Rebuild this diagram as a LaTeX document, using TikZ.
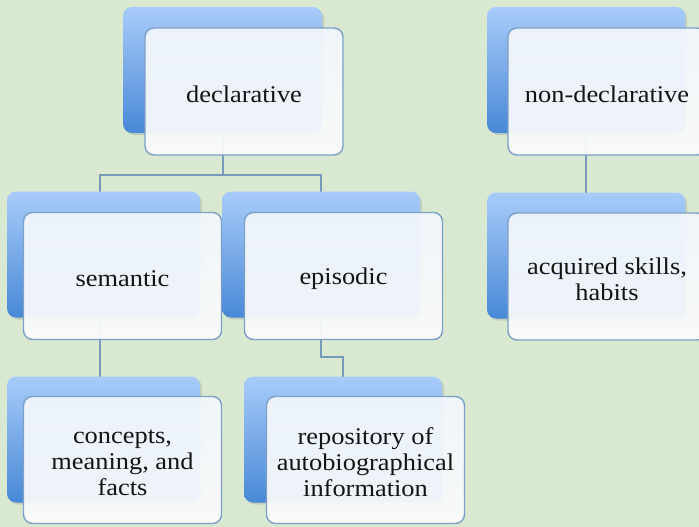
\documentclass[tikz,border=0pt]{standalone}
\usepackage{fontspec}
\setmainfont{Liberation Serif}[FakeStretch=1.1]
\usetikzlibrary{shadows}
\definecolor{bgc}{RGB}{217,233,209}
\definecolor{bluetop}{RGB}{168,204,250}
\definecolor{bluebot}{RGB}{72,136,214}
\definecolor{wtop}{RGB}{242,246,252}
\definecolor{wbot}{RGB}{250,251,251}
\definecolor{wborder}{RGB}{124,160,200}
\definecolor{linec}{RGB}{120,154,186}
\definecolor{txt}{RGB}{20,20,20}
\pgfdeclarelayer{bg}
\pgfsetlayers{bg,main}
\tikzset{
  bluebox/.style={rectangle, rounded corners=9pt, minimum height=126pt, inner sep=0pt,
    top color=bluetop, bottom color=bluebot, draw=none,
    drop shadow={opacity=0.25, shadow xshift=2pt, shadow yshift=-2pt}},
  whitebox/.style={rectangle, rounded corners=9pt, minimum width=198pt, minimum height=127pt,
    inner sep=0pt, top color=wtop, bottom color=wbot, fill opacity=0.94,
    draw=wborder, draw opacity=1, line width=1.4pt},
  cardtext/.style={align=center, text=txt, inner sep=0pt,
    font=\fontsize{24}{26}\selectfont},
  conn/.style={draw=linec, line width=2pt}
}
\newcommand\card[7]{%
  \node[bluebox, minimum width=#4pt] (#1B) at (#2,#3) {};
  \node[whitebox] (#1W) at (#5,#6) {};
  \node[cardtext] (#1T) at (#5,#6+2.5) {#7};
}
\begin{document}
\begin{tikzpicture}[x=1pt,y=-1pt]
\useasboundingbox (0,0) rectangle (699,527);
\begin{scope}
\clip (0,0) rectangle (699,527);
\card{decl}{222.5}{70}{199}{244}{91.5}{declarative}
\card{sem}{103.5}{254.5}{193}{122.5}{276}{semantic}
\card{epi}{321}{254.5}{198}{343.5}{276}{episodic}
\card{con}{103.5}{439.5}{193}{122.5}{460}{concepts,\\meaning, and\\facts}
\card{rep}{343}{439.5}{198}{365.5}{460}{repository of\\autobiographical\\information}
\card{nd}{586}{70}{198}{607}{91.5}{non-declarative}
\card{acq}{586}{255.5}{198}{607}{276.5}{acquired skills,\\habits}
\coordinate (dj) at (222.5,175);
\coordinate (ej) at (321,357);
\coordinate (sc) at ([xshift=3.5pt]semB.center);
\begin{pgfonlayer}{bg}
\fill[bgc] (0,0) rectangle (699,527);
\draw[conn] (declB.center) -- (dj);
\draw[conn] ([xshift=-3.5pt]semB.center) |- (dj) -| (epiB.center);
\draw[conn] ([xshift=-3.5pt]semB.center) -- ([xshift=-3.5pt]conB.center);
\draw[conn] (epiB.center) |- (ej) -| (repB.center);
\draw[conn] (ndB.center) -- (acqB.center);
\end{pgfonlayer}
\end{scope}
\end{tikzpicture}
\end{document}
